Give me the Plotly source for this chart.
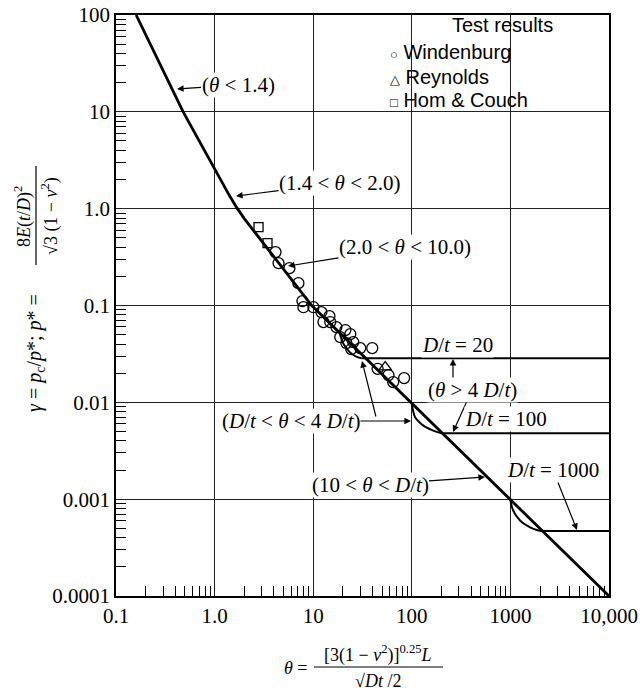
import plotly.graph_objects as go

# ---------------- data ----------------
theta_main = [0.16, 0.48, 1.4, 1.67, 2.0, 9.66, 10000]
gamma_main = [100, 10, 1.39, 1.03, 0.79, 0.1, 0.0001]

# transition curves (D/t < theta < 4 D/t)
theta_dt20 = [18.5, 19.5, 21, 23.5, 27, 31]
gamma_dt20 = [0.0525, 0.044, 0.038, 0.033, 0.0298, 0.0285]

theta_dt100 = [100, 103, 108, 120, 136, 165, 200]
gamma_dt100 = [0.00977, 0.0082, 0.0070, 0.0062, 0.0056, 0.0051, 0.0048]

theta_dt1000 = [1000, 1040, 1100, 1164, 1300, 1588, 1850, 2050]
gamma_dt1000 = [0.00098, 0.00082, 0.00072, 0.00066, 0.00058, 0.000512, 0.00048, 0.000469]

# plateaus (theta > 4 D/t)
dt_names = ["D/t = 20", "D/t = 100", "D/t = 1000"]
plateau_start = [31, 200, 2050]
plateau_end = [10000, 10000, 10000]
plateau_gamma = [0.0285, 0.0048, 0.000469]

windenburg_theta = [4.15, 4.45, 5.74, 7.08, 7.78, 7.96, 10.05, 12.1, 14.6, 12.7, 14.9, 17.2,
                    21.2, 18.8, 23.8, 21.7, 25.5, 24.3, 30.0, 39.7, 45.0, 58.0, 64.7, 83.6]
windenburg_gamma = [0.356, 0.274, 0.243, 0.170, 0.111, 0.096, 0.096, 0.0855, 0.0776, 0.0675, 0.0675, 0.0598,
                    0.0557, 0.0472, 0.0507, 0.0409, 0.0419, 0.0355, 0.0363, 0.0363, 0.0222, 0.0191, 0.0162, 0.0178]

reynolds_theta = [53.7]
reynolds_gamma = [0.0231]

homcouch_theta = [2.79, 3.44]
homcouch_gamma = [0.645, 0.441]

x_tickvals = [0.1, 1, 10, 100, 1000, 10000]
x_ticktext = ["0.1", "1.0", "10", "100", "1000", "10,000"]
y_tickvals = [0.0001, 0.001, 0.01, 0.1, 1, 10, 100]
y_ticktext = ["0.0001", "0.001", "0.01", "0.1", "1.0", "10", "100"]

# ---------------- layout geometry ----------------
W, H = 643, 697
L, R, T, B = 116, 609, 15, 596
SERIF = "Liberation Serif"
SANS = "Liberation Sans"
LBL = 21


def px(x):
    return (x - L) / (R - L)


def py(y):
    return (B - y) / (B - T)


minor_x = [m * 10 ** e for e in range(-1, 4) for m in range(2, 10)]
minor_y = [m * 10 ** e for e in range(-4, 2) for m in range(2, 10)]

fig = go.Figure()

line_style = dict(color="black", width=2.8)
branch_style = dict(color="black", width=2.0)

fig.add_trace(go.Scatter(x=theta_main, y=gamma_main, mode="lines", line=line_style,
                         showlegend=False, hoverinfo="skip"))
for th, ga in [(theta_dt20, gamma_dt20), (theta_dt100, gamma_dt100), (theta_dt1000, gamma_dt1000)]:
    fig.add_trace(go.Scatter(x=th, y=ga, mode="lines", line=dict(**branch_style, shape="spline"),
                             showlegend=False, hoverinfo="skip"))
for name, x0, x1, g in zip(dt_names, plateau_start, plateau_end, plateau_gamma):
    fig.add_trace(go.Scatter(x=[x0, x1], y=[g, g], mode="lines", name=name, line=branch_style,
                             showlegend=False, hoverinfo="skip"))

fig.add_trace(go.Scatter(x=windenburg_theta, y=windenburg_gamma, mode="markers", name="Windenburg",
                         marker=dict(symbol="circle-open", size=11, color="black", line=dict(width=1.3)),
                         showlegend=False))
fig.add_trace(go.Scatter(x=reynolds_theta, y=reynolds_gamma, mode="markers", name="Reynolds",
                         marker=dict(symbol="triangle-up-open", size=11, color="black", line=dict(width=1.3)),
                         showlegend=False))
fig.add_trace(go.Scatter(x=homcouch_theta, y=homcouch_gamma, mode="markers", name="Hom & Couch",
                         marker=dict(symbol="square-open", size=9, color="black", line=dict(width=1.3)),
                         showlegend=False))

axis_common = dict(
    type="log", showgrid=True, gridcolor="#222", gridwidth=1,
    showline=True, mirror=True, linecolor="black", linewidth=1.6,
    ticks="", zeroline=False, automargin=False,
    tickfont=dict(family=SERIF, size=21, color="black"),
)

fig.update_xaxes(**axis_common, range=[-1, 4], tickmode="array", tickvals=x_tickvals, ticktext=x_ticktext,
                 minor=dict(tickmode="array", tickvals=minor_x, ticks="inside", ticklen=10,
                            tickcolor="black", tickwidth=1, showgrid=False))
fig.update_yaxes(**axis_common, range=[-4, 2], tickmode="array", tickvals=y_tickvals, ticktext=y_ticktext,
                 minor=dict(tickmode="array", tickvals=minor_y, ticks="inside", ticklen=10,
                            tickcolor="black", tickwidth=1, showgrid=False))

annotations = []


def label(text, cx, cy, size=LBL, family=SERIF, bg="white", xanchor="center", angle=0):
    annotations.append(dict(text=text, x=px(cx), y=py(cy), xref="paper", yref="paper",
                            xanchor=xanchor, yanchor="middle", textangle=angle,
                            showarrow=False, font=dict(family=family, size=size, color="black"),
                            bgcolor=bg, borderpad=0))


def arrow(hx, hy, tx, ty, text="", size=LBL):
    annotations.append(dict(text=text, x=px(hx), y=py(hy), xref="paper", yref="paper",
                            ax=tx - hx, ay=ty - hy, showarrow=True, arrowhead=2, arrowsize=1.1,
                            arrowwidth=1.2, arrowcolor="black",
                            font=dict(family=SERIF, size=size, color="black"),
                            bgcolor="white" if text else None, borderpad=0))


# curve labels with arrows
arrow(177, 89, 238, 85, "(<i>θ</i> < 1.4)")
arrow(236, 196, 340, 183, "(1.4 < <i>θ</i> < 2.0)")
arrow(288, 266, 405, 247, "(2.0 < <i>θ</i> < 10.0)")
arrow(485, 477, 370, 485, "(10 < <i>θ</i> < <i>D</i>/<i>t</i>)")

arrow(411, 421, 291, 421, "(<i>D</i>/<i>t</i> < <i>θ</i> < 4 <i>D</i>/<i>t</i>)")
arrow(362, 361, 376, 417)

label("<i>D</i>/<i>t</i> = 20", 457, 345)
arrow(453, 432, 472, 390, "(<i>θ</i> > 4 <i>D</i>/<i>t</i>)")
arrow(453, 359, 453, 378)
label("<i>D</i>/<i>t</i> = 100", 506, 419)
arrow(577, 530, 553, 470, "<i>D</i>/<i>t</i> = 1000")

# legend block
label("Test results", 502, 25, size=20, family=SANS, bg=None)
leg_items = [("○", "Windenburg", 52), ("△", "Reynolds", 77), ("□", "Hom & Couch", 100)]
for sym, name, yy in leg_items:
    label(f"<span style='font-size:13px'>{sym}</span> {name}", 389, yy, size=20, family=SANS,
          bg=None, xanchor="left")

# y-axis title (rotated) with fraction
label("<i>γ</i> = <i>p</i><sub>c</sub>/<i>p</i>*; <i>p</i>* =", 35, 353, size=20, bg=None, angle=-90)
label("8<i>E</i>(<i>t</i>/<i>D</i>)<sup>2</sup>", 23, 217, size=18, bg=None, angle=-90)
label("√3 (1 − <i>ν</i><sup>2</sup>)", 50, 216, size=18, bg=None, angle=-90)

# x-axis title with fraction
label("<i>θ</i> =", 296, 668, size=18, bg=None)
label("[3(1 − <i>ν</i><sup>2</sup>)]<sup>0.25</sup><i>L</i>", 378, 654, size=18, bg=None)
label("√<i>Dt</i> /2", 378, 681, size=18, bg=None)

shapes = [
    dict(type="rect", xref="paper", yref="paper", x0=px(387), x1=px(607), y0=py(113), y1=py(16),
         fillcolor="white", line=dict(width=0), layer="between"),
    dict(type="line", xref="paper", yref="paper", x0=px(36), x1=px(36), y0=py(265), y1=py(166),
         line=dict(color="black", width=1.2)),
    dict(type="line", xref="paper", yref="paper", x0=px(314), x1=px(443), y0=py(667), y1=py(667),
         line=dict(color="black", width=1.2)),
]

fig.update_layout(
    width=W, height=H,
    margin=dict(l=L, r=W - R, t=T, b=H - B),
    paper_bgcolor="white", plot_bgcolor="white",
    annotations=annotations, shapes=shapes,
    showlegend=False,
)

fig.write_html("out.html", config={"displayModeBar": False},
               post_script="document.body.style.margin='0';document.body.style.overflow='hidden';")
